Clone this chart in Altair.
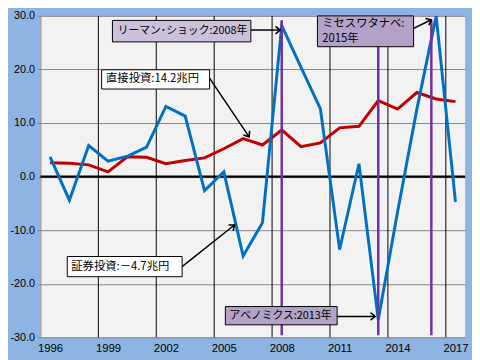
import altair as alt
import pandas as pd

# ---- data (trillion yen) ----
years = list(range(1996, 2018))
direct = [2.6, 2.5, 2.2, 0.9, 3.7, 3.6, 2.4, 3.0, 3.5, 5.2, 7.1, 5.9,
          8.7, 5.6, 6.3, 9.1, 9.4, 14.2, 12.6, 15.7, 14.5, 14.0]
portfolio = [3.7, -4.4, 5.8, 2.9, 3.8, 5.5, 13.1, 11.3, -2.6, 0.9, -14.8, -8.6,
             28.2, 20.4, 12.7, -13.6, 2.4, -26.7, -6.6, 12.6, 30.0, -4.7]
x_label_years = [1996, 1999, 2002, 2005, 2008, 2011, 2014, 2017]
vline_years = [1999, 2002, 2005, 2008, 2011, 2014, 2017]
event_x = [2008.5, 2013.5, 2016.25]

# annotation boxes
box_x = [1999.73, 2010.35, 1999.17, 1997.39, 2005.58]
box_x2 = [2006.90, 2015.33, 2004.76, 2003.34, 2011.37]
box_y = [29.16, 30.0, 19.94, -14.91, -24.25]
box_y2 = [25.15, 24.25, 16.35, -18.68, -27.66]
box_fill = ["#CCC1DA", "#B3A2C7", "#FFFFFF", "#FFFFFF", "#B3A2C7"]

label_text = ["リーマン･ショック:2008年", "ミセスワタナベ:", "2015年",
              "直接投資:14.2兆円", "証券投資:－4.7兆円", "アベノミクス:2013年"]
label_x = [2000.0, 2010.6, 2010.6, 1999.4, 1997.6, 2005.8]
label_y = [27.16, 28.5, 25.7, 18.14, -16.79, -25.95]
label_size = [11, 11.5, 11.5, 11.5, 11.5, 11]

arrow_x = [2006.90, 2015.33, 2004.76, 2003.29, 2011.35]
arrow_y = [27.36, 27.66, 18.38, -16.94, -26.10]
arrow_x2 = [2008.42, 2016.25, 2006.81, 2006.05, 2013.34]
arrow_y2 = [27.36, 29.28, 7.42, -9.03, -26.10]
arrow_angle = [0, 333, 56, 321, 0]

df = pd.DataFrame({"year": years, "direct": direct, "portfolio": portfolio})
df["xpos"] = df["year"] + 0.5

XS = alt.Scale(domain=[1996, 2018], nice=False, zero=False)
YS = alt.Scale(domain=[-30, 30], nice=False, zero=False)
XA = alt.Axis(values=[y + 0.5 for y in x_label_years], labelExpr="'' + floor(datum.value)",
              grid=False, ticks=False, domain=False, labelPadding=5, labelFontSize=11.5,
              labelFont="Liberation Sans", labelColor="black", title=None)
YA = alt.Axis(values=[-30, -20, -10, 0, 10, 20, 30],
              labelExpr="replace(format(datum.value, '.1f'), '\u2212', '-')",
              grid=True, gridColor="#868686", gridWidth=1, domainColor="#868686",
              tickColor="#868686", tickSize=3, labelPadding=3, labelFontSize=11,
              labelFont="Liberation Sans", labelColor="black", title=None)


def X(f):
    return alt.X(f, type="quantitative", scale=XS, axis=XA)


def Y(f):
    return alt.Y(f, type="quantitative", scale=YS, axis=YA)


vlines = alt.Chart(pd.DataFrame({"v": vline_years})).mark_rule(
    color="black", strokeWidth=1).encode(x=X("v"))

zero = alt.Chart(pd.DataFrame({"z": [0], "a": [1996], "b": [2018]})).mark_rule(
    color="black", strokeWidth=2.5).encode(y=Y("z"), x=X("a"), x2="b")

red = alt.Chart(df).mark_line(color="#C00000", strokeWidth=3).encode(x=X("xpos"), y=Y("direct"))
blue = alt.Chart(df).mark_line(color="#0070C0", strokeWidth=3, clip=True).encode(
    x=X("xpos"), y=Y("portfolio"))

purple = alt.Chart(pd.DataFrame({"e": event_x, "t": [29.2] * 3, "b": [-29.6] * 3})).mark_rule(
    color="#7030A0", strokeWidth=2.5).encode(x=X("e"), y=Y("t"), y2="b")

arrows_df = pd.DataFrame({"x": arrow_x, "y": arrow_y, "x2": arrow_x2, "y2": arrow_y2,
                          "ang": arrow_angle})
arrow_lines = alt.Chart(arrows_df).mark_rule(color="black", strokeWidth=1.5).encode(
    x=X("x"), y=Y("y"), x2="x2", y2="y2")
arrow_heads = alt.Chart(arrows_df).mark_point(
    shape="M-1,-0.8L0,0L-1,0.8", filled=False, color="black", strokeWidth=1.6,
    size=90, opacity=1).encode(x=X("x2"), y=Y("y2"), angle=alt.Angle("ang:Q", scale=None))

boxes = alt.Chart(pd.DataFrame({"x": box_x, "x2": box_x2, "y": box_y, "y2": box_y2,
                                "f": box_fill})).mark_rect(stroke="black", strokeWidth=1).encode(
    x=X("x"), x2="x2", y=Y("y"), y2="y2", fill=alt.Fill("f:N", scale=None))

labels = alt.Chart(pd.DataFrame({"x": label_x, "y": label_y, "t": label_text,
                                 "s": label_size})).mark_text(
    align="left", baseline="middle", font="Noto Sans CJK JP", color="black").encode(
    x=X("x"), y=Y("y"), text="t:N", size=alt.Size("s:Q", scale=None))

chart = alt.layer(vlines, zero, red, blue, purple, arrow_lines, arrow_heads, boxes, labels).properties(
    width=432, height=327,
    autosize=alt.AutoSizeParams(type="none"),
    padding={"left": 33, "top": 5, "right": 7, "bottom": 20},
    background="#8DB4E2",
).configure_view(fill="#F2F2F2", stroke=None)

chart.save("out.html", embed_options={"renderer": "svg", "actions": False})
